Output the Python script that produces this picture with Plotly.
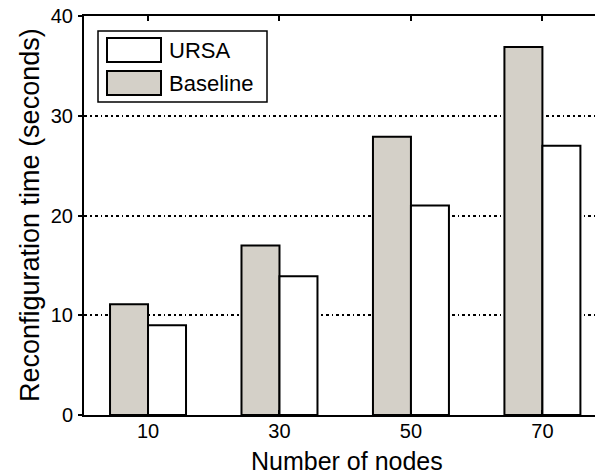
import plotly.graph_objects as go

categories = ["10", "30", "50", "70"]
baseline = [11.1, 17.0, 27.9, 36.9]
ursa = [9.0, 13.9, 21.0, 27.0]
y_ticks = [0, 10, 20, 30, 40]

BASE_COLOR = "#d4d0c8"
URSA_COLOR = "#ffffff"
FONT = "Liberation Sans, Arial, sans-serif"

W, H = 595, 475
PL, PT, PB, PR = 84, 16, 415, 595  # plot-area edges in pixels
L, T, R, B = PL, PT, W - PR, H - PB
PW, PH = PR - PL, PB - PT


def px(x):
    return (x - PL) / PW


def py(y):
    return (PB - y) / PH


fig = go.Figure()
fig.add_trace(go.Bar(x=categories, y=baseline, name="Baseline",
                     marker=dict(color=BASE_COLOR, line=dict(color="black", width=2)),
                     showlegend=False))
fig.add_trace(go.Bar(x=categories, y=ursa, name="URSA",
                     marker=dict(color=URSA_COLOR, line=dict(color="black", width=2)),
                     showlegend=False))

shapes = [
    dict(type="rect", xref="paper", yref="paper", x0=px(98), x1=px(267), y0=py(102), y1=py(31),
         line=dict(color="black", width=1.5), fillcolor="white", layer="above"),
    dict(type="rect", xref="paper", yref="paper", x0=px(107), x1=px(161), y0=py(62), y1=py(38),
         line=dict(color="black", width=2), fillcolor=URSA_COLOR, layer="above"),
    dict(type="rect", xref="paper", yref="paper", x0=px(107), x1=px(161), y0=py(95), y1=py(71),
         line=dict(color="black", width=2), fillcolor=BASE_COLOR, layer="above"),
]

annotations = [
    dict(text="URSA", xref="paper", yref="paper", x=px(167), y=py(50), xanchor="left",
         yanchor="middle", showarrow=False, font=dict(family=FONT, size=22, color="black")),
    dict(text="Baseline", xref="paper", yref="paper", x=px(167), y=py(83), xanchor="left",
         yanchor="middle", showarrow=False, font=dict(family=FONT, size=22, color="black")),
    dict(text="Number of nodes", xref="paper", yref="paper", x=px(346.5), y=py(461),
         xanchor="center", yanchor="middle", showarrow=False,
         font=dict(family=FONT, size=25, color="black")),
    dict(text="Reconfiguration time (seconds)", xref="paper", yref="paper", x=px(30), y=py(215),
         xanchor="center", yanchor="middle", textangle=-90, showarrow=False,
         font=dict(family=FONT, size=27, color="black")),
]

fig.update_layout(
    width=W, height=H,
    margin=dict(l=L, r=R, t=T, b=B, pad=0, autoexpand=False),
    paper_bgcolor="white", plot_bgcolor="white",
    barmode="group", bargap=0.422, bargroupgap=0,
    font=dict(family=FONT, size=20, color="black"),
    shapes=shapes, annotations=annotations,
    xaxis=dict(type="category", range=[-0.487, 3.4], showgrid=False, automargin=False,
               showline=True, linecolor="black", linewidth=2, mirror="ticks",
               ticks="inside", ticklen=5, tickwidth=1.5, tickcolor="black",
               tickfont=dict(family=FONT, size=20), ticklabelstandoff=-3,
               ticklabeloverflow="allow"),
    yaxis=dict(range=[0, 40], tickvals=y_ticks, showgrid=True, gridcolor="black",
               gridwidth=1.5, griddash="3px,3px,1.5px,3px", zeroline=False, automargin=False,
               showline=True, linecolor="black", linewidth=2,
               ticks="outside", ticklen=4, tickwidth=1.5, tickcolor="black",
               tickfont=dict(family=FONT, size=20), ticklabelstandoff=1,
               ticklabeloverflow="allow"),
)

# Remove the browser's default 8px body margin so the figure sits at the window origin.
fig.write_html("out.html",
               config={"displayModeBar": False},
               post_script="document.body.style.margin='0';document.body.style.overflow='hidden';")
